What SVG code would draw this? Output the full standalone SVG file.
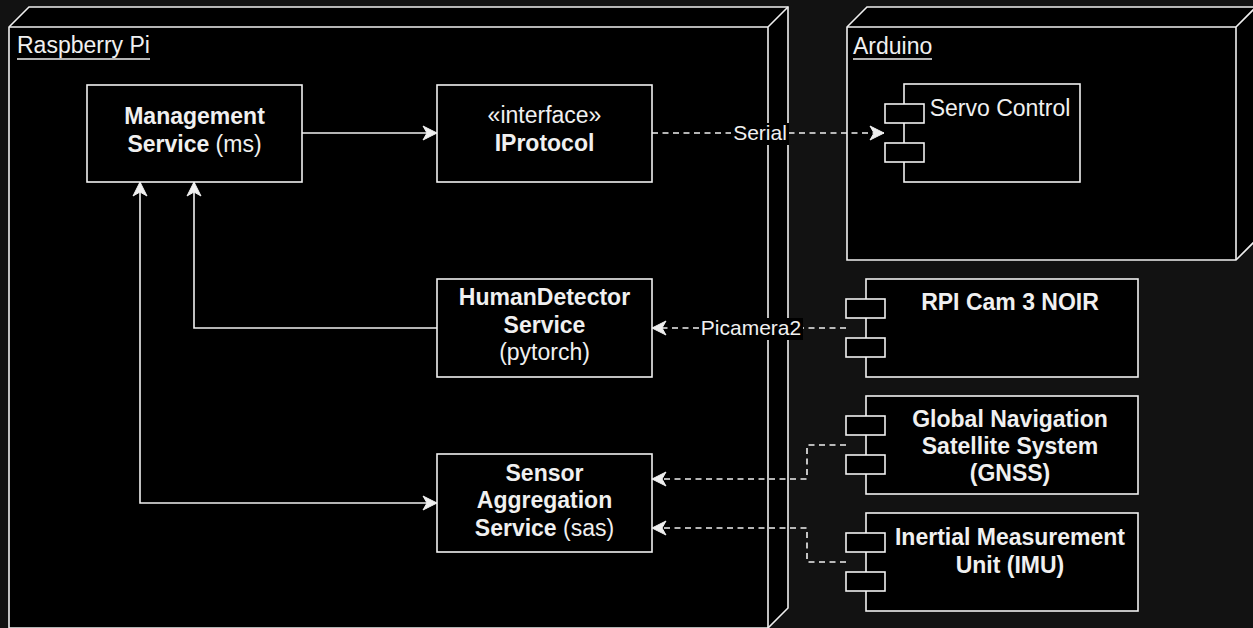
<svg xmlns="http://www.w3.org/2000/svg" width="1253" height="628" viewBox="0 0 1253 628">
<style>
.n{fill:#000;stroke:#f0f0f0;stroke-width:1.6}
.ln{fill:none;stroke:#f0f0f0;stroke-width:1.6}
.t{font-family:"Liberation Sans",Arial,Helvetica,sans-serif;font-size:23px;fill:#f0f0f0;text-anchor:middle}
.s{text-anchor:start}
.b{font-weight:bold}
.c{fill:none;stroke:#f0f0f0;stroke-width:1.6}
.d{stroke-dasharray:6 4.5}
.lb{font-size:21px}
.bg{fill:#000}
</style>
<defs>
<marker id="arr" markerUnits="userSpaceOnUse" markerWidth="20" markerHeight="20" viewBox="-16 -10 20 20" refX="0" refY="0" orient="auto-start-reverse">
<path d="M0,0 L-14,-7 L-10,0 L-14,7 Z" fill="#f0f0f0" stroke="#f0f0f0" stroke-width="1" stroke-dasharray="none" stroke-linejoin="miter"/>
</marker>
</defs>
<rect x="0" y="0" width="1253" height="628" fill="#121212"/>

<g id="raspberry-pi">
<path class="n" d="M9,27 L29,7 H788 V608 L768,628 H9 Z"/>
<path class="ln" d="M9,27 H768 V628 M768,27 L788,7"/>
<text class="t s" x="17" y="53">Raspberry Pi</text>
<line x1="17" y1="59" x2="150" y2="59" stroke="#f0f0f0" stroke-width="1.5"/>
</g>

<g id="arduino">
<path class="n" d="M847,27 L867,7 H1256 V240 L1236,260 H847 Z"/>
<path class="ln" d="M847,27 H1236 V260 M1236,27 L1256,7"/>
<text class="t s" x="853" y="54">Arduino</text>
<line x1="853" y1="59" x2="932" y2="59" stroke="#f0f0f0" stroke-width="1.5"/>
</g>

<g id="management-service">
<rect class="n" x="87" y="85" width="215" height="97"/>
<text class="t b" x="194.5" y="124">Management</text>
<text class="t" x="194.5" y="152"><tspan class="b">Service</tspan> (ms)</text>
</g>

<g id="iprotocol">
<rect class="n" x="437" y="85" width="215" height="97"/>
<text class="t" x="544.5" y="123">«interface»</text>
<text class="t b" x="544.5" y="151">IProtocol</text>
</g>

<g id="human-detector">
<rect class="n" x="437" y="279" width="215" height="98"/>
<text class="t b" x="544.5" y="305">HumanDetector</text>
<text class="t b" x="544.5" y="333">Service</text>
<text class="t" x="544.5" y="360">(pytorch)</text>
</g>

<g id="sensor-aggregation">
<rect class="n" x="437" y="454" width="215" height="98"/>
<text class="t b" x="544.5" y="481">Sensor</text>
<text class="t b" x="544.5" y="508">Aggregation</text>
<text class="t" x="544.5" y="536"><tspan class="b">Service</tspan> (sas)</text>
</g>

<g id="servo-control">
<rect class="n" x="904" y="84" width="176" height="98"/>
<rect class="n" x="885" y="104" width="39" height="19"/>
<rect class="n" x="885" y="143" width="39" height="19"/>
<text class="t" x="1000" y="116">Servo Control</text>
</g>

<g id="rpi-cam">
<rect class="n" x="866" y="279" width="272" height="98"/>
<rect class="n" x="846" y="299" width="39" height="19"/>
<rect class="n" x="846" y="338" width="39" height="19"/>
<text class="t b" x="1010" y="310">RPI Cam 3 NOIR</text>
</g>

<g id="gnss">
<rect class="n" x="866" y="396" width="272" height="98"/>
<rect class="n" x="846" y="416" width="39" height="19"/>
<rect class="n" x="846" y="455" width="39" height="19"/>
<text class="t b" x="1010" y="427">Global Navigation</text>
<text class="t b" x="1010" y="454">Satellite System</text>
<text class="t b" x="1010" y="481">(GNSS)</text>
</g>

<g id="imu">
<rect class="n" x="866" y="513" width="272" height="98"/>
<rect class="n" x="846" y="533" width="39" height="19"/>
<rect class="n" x="846" y="572" width="39" height="19"/>
<text class="t b" x="1010" y="545">Inertial Measurement</text>
<text class="t b" x="1010" y="573">Unit (IMU)</text>
</g>

<g id="connectors">
<path class="c" d="M302,133 H437" marker-end="url(#arr)"/>
<path class="c" d="M437,328 H194 V182" marker-end="url(#arr)"/>
<path class="c" d="M140,182 V503 H437" marker-start="url(#arr)" marker-end="url(#arr)"/>
<path class="c d" d="M652,133 H884" marker-end="url(#arr)"/>
<path class="c d" d="M846,328 H652" marker-end="url(#arr)"/>
<path class="c d" d="M846,445 H807 V479 H652" marker-end="url(#arr)"/>
<path class="c d" d="M846,562 H807 V528 H652" marker-end="url(#arr)"/>
<rect class="bg" x="731" y="123" width="58" height="22"/>
<text class="t lb" x="760" y="140">Serial</text>
<rect class="bg" x="699" y="318" width="104" height="22"/>
<text class="t lb" x="751" y="335">Picamera2</text>
</g>
</svg>
